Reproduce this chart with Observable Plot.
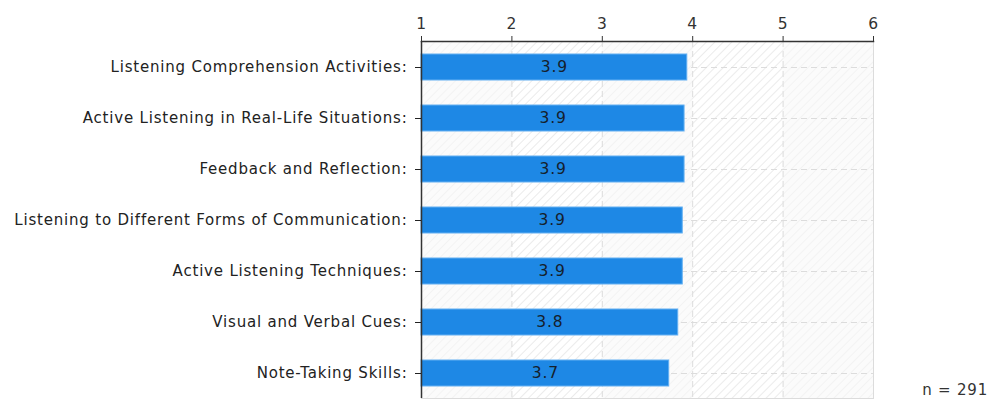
<!DOCTYPE html>
<html>
<head>
<meta charset="utf-8">
<script src="https://cdn.jsdelivr.net/npm/d3@7"></script>
<script src="https://cdn.jsdelivr.net/npm/@observablehq/plot@0.6"></script>
<style>
  html, body { margin: 0; padding: 0; background: #fff; }
  #wrap { position: relative; width: 989px; height: 401px; font-family: "DejaVu Sans", sans-serif; }
  #n { position: absolute; right: 1px; top: 381px; font-size: 15px; color: #333; letter-spacing: 0.8px; }
</style>
</head>
<body>
<div id="wrap"><div id="chart"></div><div id="n">n = 291</div></div>
<script>
const categories = [
  "Listening Comprehension Activities:",
  "Active Listening in Real-Life Situations:",
  "Feedback and Reflection:",
  "Listening to Different Forms of Communication:",
  "Active Listening Techniques:",
  "Visual and Verbal Cues:",
  "Note-Taking Skills:"
];
const values = [3.94, 3.91, 3.91, 3.89, 3.89, 3.84, 3.74];
const xTicks = [1, 2, 3, 4, 5, 6];
const shadedColumns = [[1, 2], [3, 4], [5, 6]];
const gridX = [2, 3, 4, 5];

const data = categories.map((c, i) => ({category: c, value: values[i]}));
const font = "DejaVu Sans, sans-serif";

const plot = Plot.plot({
  width: 989,
  height: 401,
  marginLeft: 421,
  marginRight: 116,
  marginTop: 41,
  marginBottom: 3,
  style: {fontFamily: font, background: "#fff", overflow: "visible", letterSpacing: "0.8px"},
  x: {domain: [1, 6], axis: null, label: null},
  y: {domain: categories, axis: null, label: null, paddingInner: 0.5, paddingOuter: 0.25},
  marks: [
    Plot.frame({fill: "url(#hatch)", stroke: null}),
    Plot.rect(shadedColumns, {x1: d => d[0], x2: d => d[1], fill: "#f8f8f8", fillOpacity: 0.6}),
    Plot.ruleX(gridX, {stroke: "#dcdcdc", strokeDasharray: "6,4"}),
    Plot.ruleY(categories, {y: d => d, stroke: "#dcdcdc", strokeDasharray: "6,4"}),
    Plot.ruleX([6], {stroke: "#dcdcdc"}),
    Plot.frame({anchor: "bottom", stroke: "#dcdcdc"}),
    Plot.barX(data, {x1: d => 1, x2: "value", y: "category", fill: "#1e88e5", stroke: "#64b0f2", strokeWidth: 1}),
    Plot.text(data, {x: d => (1 + d.value) / 2, y: "category", text: d => d.value.toFixed(1), fill: "#15202c", fontSize: 15.5, letterSpacing: "0.3px"}),
    Plot.ruleX([1], {stroke: "#333", strokeWidth: 1.5}),
    Plot.frame({anchor: "top", stroke: "#333", strokeWidth: 1.5}),
    Plot.axisX({anchor: "top", label: null, ticks: xTicks, tickSize: 6, tickPadding: 7, fontSize: 15.5, color: "#333", tickFormat: d3.format("d")}),
    Plot.axisY({anchor: "left", label: null, tickSize: 6, tickPadding: 8, fontSize: 15, color: "#222"})
  ]
});

const svg = d3.select(plot);
const defs = svg.insert("defs", ":first-child");
const pat = defs.append("pattern")
  .attr("id", "hatch").attr("patternUnits", "userSpaceOnUse")
  .attr("width", 6).attr("height", 6)
  .attr("patternTransform", "rotate(45)");
pat.append("rect").attr("width", 6).attr("height", 6).attr("fill", "#fff");
pat.append("line").attr("x1", 0).attr("y1", 0).attr("x2", 0).attr("y2", 6)
  .attr("stroke", "#ebebeb").attr("stroke-width", 2);

document.getElementById("chart").appendChild(plot);
</script>
</body>
</html>
